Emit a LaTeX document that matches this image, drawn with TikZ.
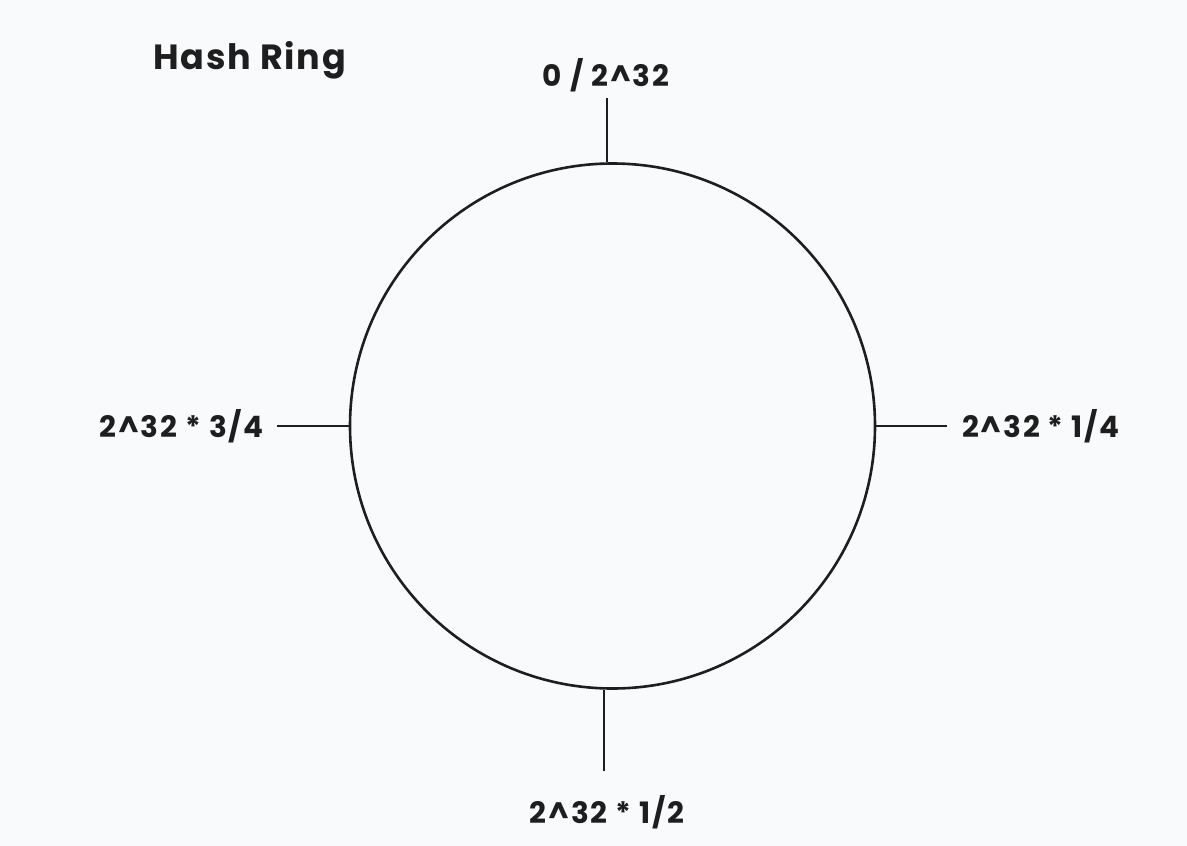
\documentclass[tikz,border=0pt]{standalone}
\usepackage{fontspec}
\setmainfont{Poppins}
\definecolor{bg}{HTML}{F9FAFB}
\definecolor{ink}{HTML}{1E1E1E}
\begin{document}
\begin{tikzpicture}[x=1pt,y=-1pt,
  ring/.style={draw=ink,line width=2.6pt},
  tick/.style={draw=ink,line width=2.6pt},
  lbl/.style={text=ink,font=\fontsize{29.5}{34}\selectfont\bfseries\addfontfeature{LetterSpace=6},inner sep=0pt},
  ttl/.style={text=ink,font=\fontsize{35}{40}\selectfont\bfseries\addfontfeature{LetterSpace=5},inner sep=0pt}]
\fill[bg] (0,0) rectangle (1187,846);
\useasboundingbox (0,0) rectangle (1187,846);
\node[ring,circle,minimum size=525pt,inner sep=0pt] (ring) at (612.5,426) {};
\coordinate (t0) at (607,98);
\coordinate (t1) at (947,426);
\coordinate (t2) at (604,771);
\coordinate (t3) at (277,426);
\draw[tick] (t0) -- (ring.north -| t0);
\draw[tick] (t1) -- (ring.east);
\draw[tick] (t2) -- (ring.south -| t2);
\draw[tick] (t3) -- (ring.west);
\node[lbl] (l0) at (606,75) {0 / 2\^{}32};
\node[lbl,anchor=west] (l1) at (962,426) {2\^{}32 * 1/4};
\node[lbl] (l2) at (607,812) {2\^{}32 * 1/2};
\node[lbl,anchor=east] (l3) at (264,426) {2\^{}32 * 3/4};
\node[ttl,anchor=west] (title) at (153,60) {Hash Ring};
\end{tikzpicture}
\end{document}
